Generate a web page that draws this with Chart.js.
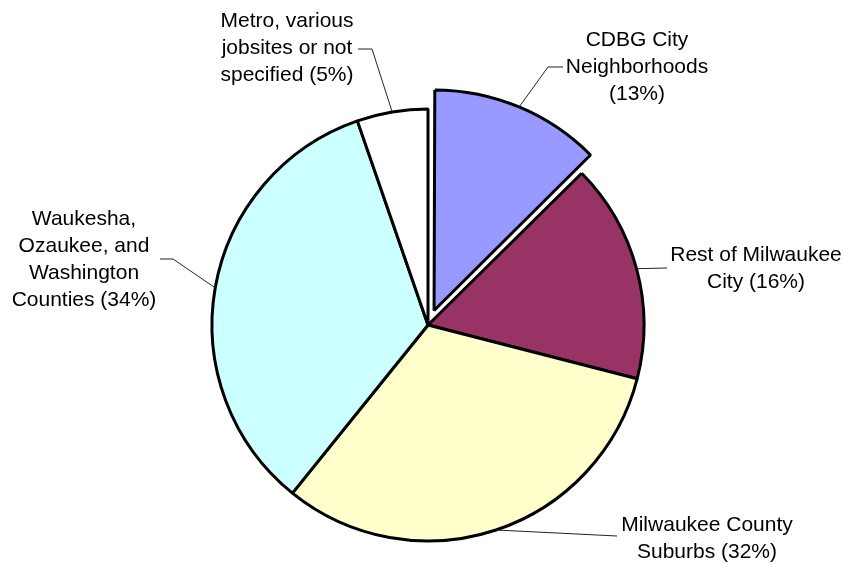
<!DOCTYPE html>
<html>
<head>
<meta charset="utf-8">
<script src="https://cdn.jsdelivr.net/npm/chart.js@4.4.1/dist/chart.umd.min.js"></script>
<style>
  html, body { margin: 0; padding: 0; background: #fff; }
  #wrap { width: 849px; height: 564px; position: relative; }
</style>
</head>
<body>
<div id="wrap"><canvas id="pieChart"></canvas></div>
<script>
  // data (slice sizes estimated from the angles)
  const categories = [
    'CDBG City Neighborhoods',
    'Rest of Milwaukee City',
    'Milwaukee County Suburbs',
    'Waukesha, Ozaukee, and Washington Counties',
    'Metro, various jobsites or not specified'
  ];
  const shares = [12.6, 16.4, 31.8, 33.9, 5.3];
  const labelLines = [
    ['CDBG City', 'Neighborhoods', '(13%)'],
    ['Rest of Milwaukee', 'City (16%)'],
    ['Milwaukee County', 'Suburbs (32%)'],
    ['Waukesha,', 'Ozaukee, and', 'Washington', 'Counties (34%)'],
    ['Metro, various', 'jobsites or not', 'specified (5%)']
  ];
  const sliceColors = ['#9999FF', '#993366', '#FFFFCC', '#CCFFFF', '#FFFFFF'];

  // label placement: text centre x, first baseline, leader elbow and end
  const labelLayout = [
    { cx: 637, y: 46,  elbow: [548, 67],  end: [563, 67] },
    { cx: 756, y: 261, elbow: null,       end: [667, 268] },
    { cx: 707, y: 531, elbow: null,       end: [617, 536] },
    { cx: 84,  y: 225, elbow: [173, 259], end: [160, 259] },
    { cx: 287, y: 27,  elbow: [372, 49],  end: [358, 49] }
  ];
  const lineHeight = 27;

  const pieLabels = {
    id: 'pieLabels',
    afterDraw(chart) {
      const ctx = chart.ctx;
      const meta = chart.getDatasetMeta(0);
      ctx.save();
      ctx.font = '21px "Liberation Sans", Arial, sans-serif';
      ctx.fillStyle = '#000';
      ctx.textAlign = 'center';
      ctx.textBaseline = 'alphabetic';
      meta.data.forEach((arc, i) => {
        const p = arc.getProps(['x', 'y', 'startAngle', 'endAngle', 'outerRadius', 'circumference'], true);
        const mid = (p.startAngle + p.endAngle) / 2;
        // same shift that ArcElement applies for an offset slice
        const off = (arc.options.offset || 0) / 4;
        const fix = 1 - Math.sin(Math.min(Math.PI, p.circumference || 0));
        const shift = off + off * fix;
        const sx = p.x + Math.cos(mid) * (p.outerRadius + shift);
        const sy = p.y + Math.sin(mid) * (p.outerRadius + shift);
        const L = labelLayout[i];
        ctx.beginPath();
        ctx.strokeStyle = '#222';
        ctx.lineWidth = 1;
        ctx.moveTo(sx, sy);
        if (L.elbow) ctx.lineTo(L.elbow[0], L.elbow[1]);
        ctx.lineTo(L.end[0], L.end[1]);
        ctx.stroke();
        labelLines[i].forEach((t, k) => {
          ctx.fillText(t, L.cx, L.y + k * lineHeight);
        });
      });
      ctx.restore();
    }
  };

  new Chart(document.getElementById('pieChart'), {
    type: 'pie',
    data: {
      labels: categories,
      datasets: [{
        data: shares,
        backgroundColor: sliceColors,
        borderColor: '#000',
        borderWidth: 3,
        offset: [63, 0, 0, 0, 0],
        hoverOffset: 0
      }]
    },
    options: {
      responsive: true,
      maintainAspectRatio: false,
      animation: false,
      radius: 216,
      layout: { padding: { left: 20, right: 13, top: 100, bottom: 14 } },
      plugins: {
        legend: { display: false },
        tooltip: { enabled: false }
      },
      events: []
    },
    plugins: [pieLabels]
  });
</script>
</body>
</html>
